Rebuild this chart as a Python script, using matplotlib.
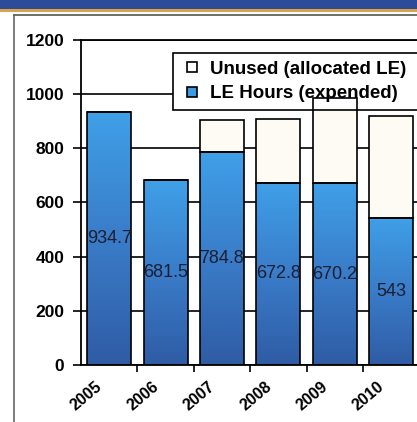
import numpy as np
import matplotlib
matplotlib.use("Agg")
import matplotlib.pyplot as plt
from matplotlib.patches import Rectangle
from matplotlib.lines import Line2D
from matplotlib.colors import LinearSegmentedColormap
from matplotlib.transforms import ScaledTranslation

# --- data ---
years = ["2005", "2006", "2007", "2008", "2009", "2010"]
le_hours = [934.7, 681.5, 784.8, 672.8, 670.2, 543]
allocated = [934.7, 681.5, 905, 907, 985, 919]
unused = [a - b for a, b in zip(allocated, le_hours)]
y_ticks = [0, 200, 400, 600, 800, 1000, 1200]

plt.rcParams["font.family"] = ["Liberation Sans", "DejaVu Sans"]

W, H = 417, 422
fig = plt.figure(figsize=(W / 100, H / 100), dpi=100)
fig.patch.set_facecolor("white")

# scanned page frame: blue band, orange rule, panel border
fig.patches.append(Rectangle((0, 1 - 9 / H), 1, 9 / H, transform=fig.transFigure,
                             facecolor="#2c4b99", edgecolor="none"))
fig.patches.append(Rectangle((0, 1 - 12 / H), 1, 3 / H, transform=fig.transFigure,
                             facecolor="#dca24a", edgecolor="none"))
fig.lines.append(Line2D([14 / W, 1], [1 - 14.5 / H, 1 - 14.5 / H], transform=fig.transFigure,
                        color="#555555", lw=1.2))
fig.lines.append(Line2D([14 / W, 14 / W], [0, 1 - 14.5 / H], transform=fig.transFigure,
                        color="#666666", lw=1.2))

# axes: left spine at x=81, y=0 at 365px, y=1200 at 40px; 7 slots, last one off-page
cat_w = 56.4
ax = fig.add_axes([81 / W, (H - 365) / H, 7 * cat_w / W, 325 / H])
ax.set_facecolor("none")

x = np.arange(len(years))
bw = 0.78

# fills below the legend, outlines above it (as in the scan)
le_bars = ax.bar(x, le_hours, bw, facecolor="none", edgecolor="black", lw=1.2, zorder=3)
ax.bar(x, unused, bw, bottom=le_hours, facecolor="#fdfbf3", edgecolor="none", zorder=2.6)
ax.bar(x, unused, bw, bottom=le_hours, facecolor="none", edgecolor="black", lw=1.2, zorder=3)

# gradient fill for the expended bars
cmap = LinearSegmentedColormap.from_list("le", ["#2f5ca5", "#3a7cc8", "#3fa0e8"])
grad = np.linspace(0, 1, 256).reshape(-1, 1)
for b in le_bars:
    x0, w, h = b.get_x(), b.get_width(), b.get_height()
    im = ax.imshow(grad, cmap=cmap, origin="lower", aspect="auto",
                   extent=[x0, x0 + w, 0, h], zorder=2.5)
    im.set_clip_path(b)

for xi, v in zip(x, le_hours):
    ax.text(xi, v / 2, f"{v:g}", ha="center", va="center", fontsize=13,
            color="#1c1f33", zorder=4)

ax.set_xlim(-0.5, 6.5)
ax.set_ylim(0, 1200)
ax.set_yticks(y_ticks)
ax.set_yticklabels([str(t) for t in y_ticks], fontsize=12.5, fontweight="bold")
ax.yaxis.grid(True, color="black", lw=1.2)
ax.set_axisbelow(True)

ax.set_xticks(x)
ax.set_xticklabels(years, rotation=40, ha="right", va="center",
                   rotation_mode="anchor", fontsize=11.5, fontweight="bold")
ax.set_xticks(np.arange(0.5, 6.5, 1), minor=True)
ax.tick_params(axis="x", which="major", length=0, pad=14)
ax.tick_params(axis="x", which="minor", length=5, width=1.2, direction="out")
ax.tick_params(axis="y", length=6, width=1.2, pad=6)
for lab in ax.get_xticklabels():
    lab.set_transform(lab.get_transform() + ScaledTranslation(-0.09, 0, fig.dpi_scale_trans))

for s in ["left", "bottom", "top"]:
    ax.spines[s].set_linewidth(1.3)
ax.spines["right"].set_visible(False)

handles = [
    Line2D([], [], marker="s", ls="none", markersize=7, markerfacecolor="white",
           markeredgecolor="black", markeredgewidth=1.2),
    Line2D([], [], marker="s", ls="none", markersize=7, markerfacecolor="#3d9be3",
           markeredgecolor="black", markeredgewidth=1.2),
]
leg = ax.legend(handles, ["Unused (allocated LE)", "LE Hours (expended)"],
                loc="upper left", bbox_to_anchor=(173 / W, 1 - 108 / H, 320 / W, 55 / H),
                bbox_transform=fig.transFigure, mode="expand",
                frameon=True, fancybox=False, edgecolor="black", framealpha=1,
                prop={"weight": "bold", "size": 13.5}, handlelength=1.2,
                handletextpad=0.35, labelspacing=0.4, borderpad=0.4, borderaxespad=0)
leg.get_frame().set_linewidth(1.2)
leg.set_zorder(2.9)

fig.savefig("out.png", dpi=100)
